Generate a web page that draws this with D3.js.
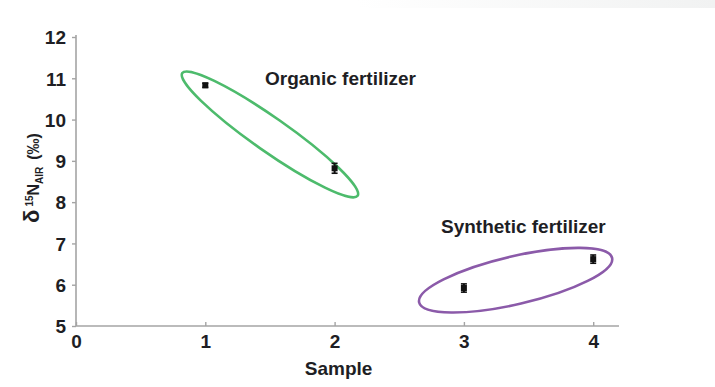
<!DOCTYPE html>
<html>
<head>
<meta charset="utf-8">
<script src="https://cdn.jsdelivr.net/npm/d3@7"></script>
<style>
  html, body { margin: 0; padding: 0; background: #fff; }
  svg { display: block; }
  text { font-family: "Liberation Sans", Arial, Helvetica, sans-serif; fill: #1e1e24; }
</style>
</head>
<body>
<svg id="chart" width="715" height="387"></svg>
<script>
// Sample numbers and measured δ15N (‰ vs AIR)
const samples = [1, 2, 3, 4];
const delta15N = [10.83, 8.82, 5.92, 6.62];
const errors = [0.05, 0.12, 0.1, 0.1];

// Axis ticks
const xTicks = [0, 1, 2, 3, 4];
const yTicks = [5, 6, 7, 8, 9, 10, 11, 12];

// Grouping annotations (centre in data units)
const groupLabels = ["Organic fertilizer", "Synthetic fertilizer"];
const groupCentreX = [1.5, 3.4];
const groupCentreY = [9.64, 6.11];
const groupColours = ["#4dbb6c", "#8b5aa9"];

const svg = d3.select("#chart");
const W = 715, H = 387;

// faint band along the top edge
const defs = svg.append("defs");
const grad = defs.append("linearGradient").attr("id", "topband").attr("x1", 0).attr("x2", 1);
grad.append("stop").attr("offset", "0.5").attr("stop-color", "#ffffff");
grad.append("stop").attr("offset", "1").attr("stop-color", "#f1f2f2");
svg.append("rect").attr("x", 0).attr("y", 0).attr("width", W).attr("height", 8).attr("fill", "url(#topband)");

const plot = { left: 76, right: 619, top: 37, bottom: 326 };
const x = d3.scaleLinear().domain([0, 4]).range([plot.left, plot.left + 4 * 129.3]);
const y = d3.scaleLinear().domain([5, 12]).range([plot.bottom, plot.top]);

const axisColour = "#a4a4a4";
const fmt = d3.format("d");

// y axis
const yAxis = svg.append("g").attr("transform", `translate(${plot.left},0)`)
  .call(d3.axisLeft(y).tickValues(yTicks).tickFormat(fmt).tickSize(4).tickPadding(5));
yAxis.select(".domain").attr("d", `M0,${plot.top - 2}V${plot.bottom}`);

// x axis (ticks point up into the plot)
const xAxis = svg.append("g").attr("transform", `translate(0,${plot.bottom})`)
  .call(d3.axisBottom(x).tickValues(xTicks).tickFormat(fmt).tickSize(-4).tickPadding(6));
xAxis.select(".domain").attr("d", `M${plot.left},0H${plot.right}`);

svg.selectAll(".domain").attr("stroke", axisColour).attr("stroke-width", 1.6);
svg.selectAll(".tick line").attr("stroke", axisColour).attr("stroke-width", 1.4);
svg.selectAll(".tick text")
  .style("font-family", "'Liberation Sans', Arial, sans-serif")
  .style("font-size", "19px").style("font-weight", "bold").attr("fill", "#1e1e24");
xAxis.selectAll(".tick text").attr("dy", "0.85em");
yAxis.selectAll(".tick text").attr("dx", "-1").attr("dy", "0.36em");

// axis titles
svg.append("text").attr("x", x(2) + 4).attr("y", 375).attr("text-anchor", "middle")
  .style("font-size", "19px").style("font-weight", "bold").text("Sample");

const yt = svg.append("text")
  .attr("transform", `translate(39,178) rotate(-90)`)
  .attr("text-anchor", "middle")
  .style("font-size", "16px").style("font-weight", "bold");
yt.append("tspan").style("font-size", "22px").text("δ");
yt.append("tspan").attr("dx", 3).attr("dy", -6).style("font-size", "10px").text("15");
yt.append("tspan").attr("dy", 6).text("N");
yt.append("tspan").attr("dy", 4).style("font-size", "10px").text("AIR");
yt.append("tspan").attr("dy", -4).attr("dx", 7).text("(‰)");

// grouping ellipses
const ellipseShape = [
  { rx: 107, ry: 17, angle: 35 },
  { rx: 99, ry: 24, angle: -13 }
];
groupLabels.forEach((lab, i) => {
  const cx = x(groupCentreX[i]), cy = y(groupCentreY[i]);
  svg.append("ellipse")
    .attr("cx", 0).attr("cy", 0)
    .attr("rx", ellipseShape[i].rx).attr("ry", ellipseShape[i].ry)
    .attr("transform", `translate(${cx},${cy}) rotate(${ellipseShape[i].angle})`)
    .attr("fill", "none").attr("stroke", groupColours[i]).attr("stroke-width", 2.6);
});

// group labels
svg.append("text").attr("x", 265).attr("y", 85)
  .style("font-size", "19px").style("font-weight", "bold").text(groupLabels[0]);
svg.append("text").attr("x", 441).attr("y", 233)
  .style("font-size", "19px").style("font-weight", "bold").text(groupLabels[1]);

// data points with error bars
const pts = samples.map((s, i) => ({ s, v: delta15N[i], e: errors[i] }));
const g = svg.append("g");
pts.forEach(d => {
  const px = x(d.s);
  g.append("line").attr("x1", px).attr("x2", px)
    .attr("y1", y(d.v + d.e)).attr("y2", y(d.v - d.e))
    .attr("stroke", "#111").attr("stroke-width", 2);
  [d.v + d.e, d.v - d.e].forEach(c => {
    g.append("line").attr("x1", px - 3).attr("x2", px + 3)
      .attr("y1", y(c)).attr("y2", y(c))
      .attr("stroke", "#111").attr("stroke-width", 1.6);
  });
  g.append("rect").attr("x", px - 3).attr("y", y(d.v) - 3)
    .attr("width", 6).attr("height", 6).attr("fill", "#111");
});
</script>
</body>
</html>
